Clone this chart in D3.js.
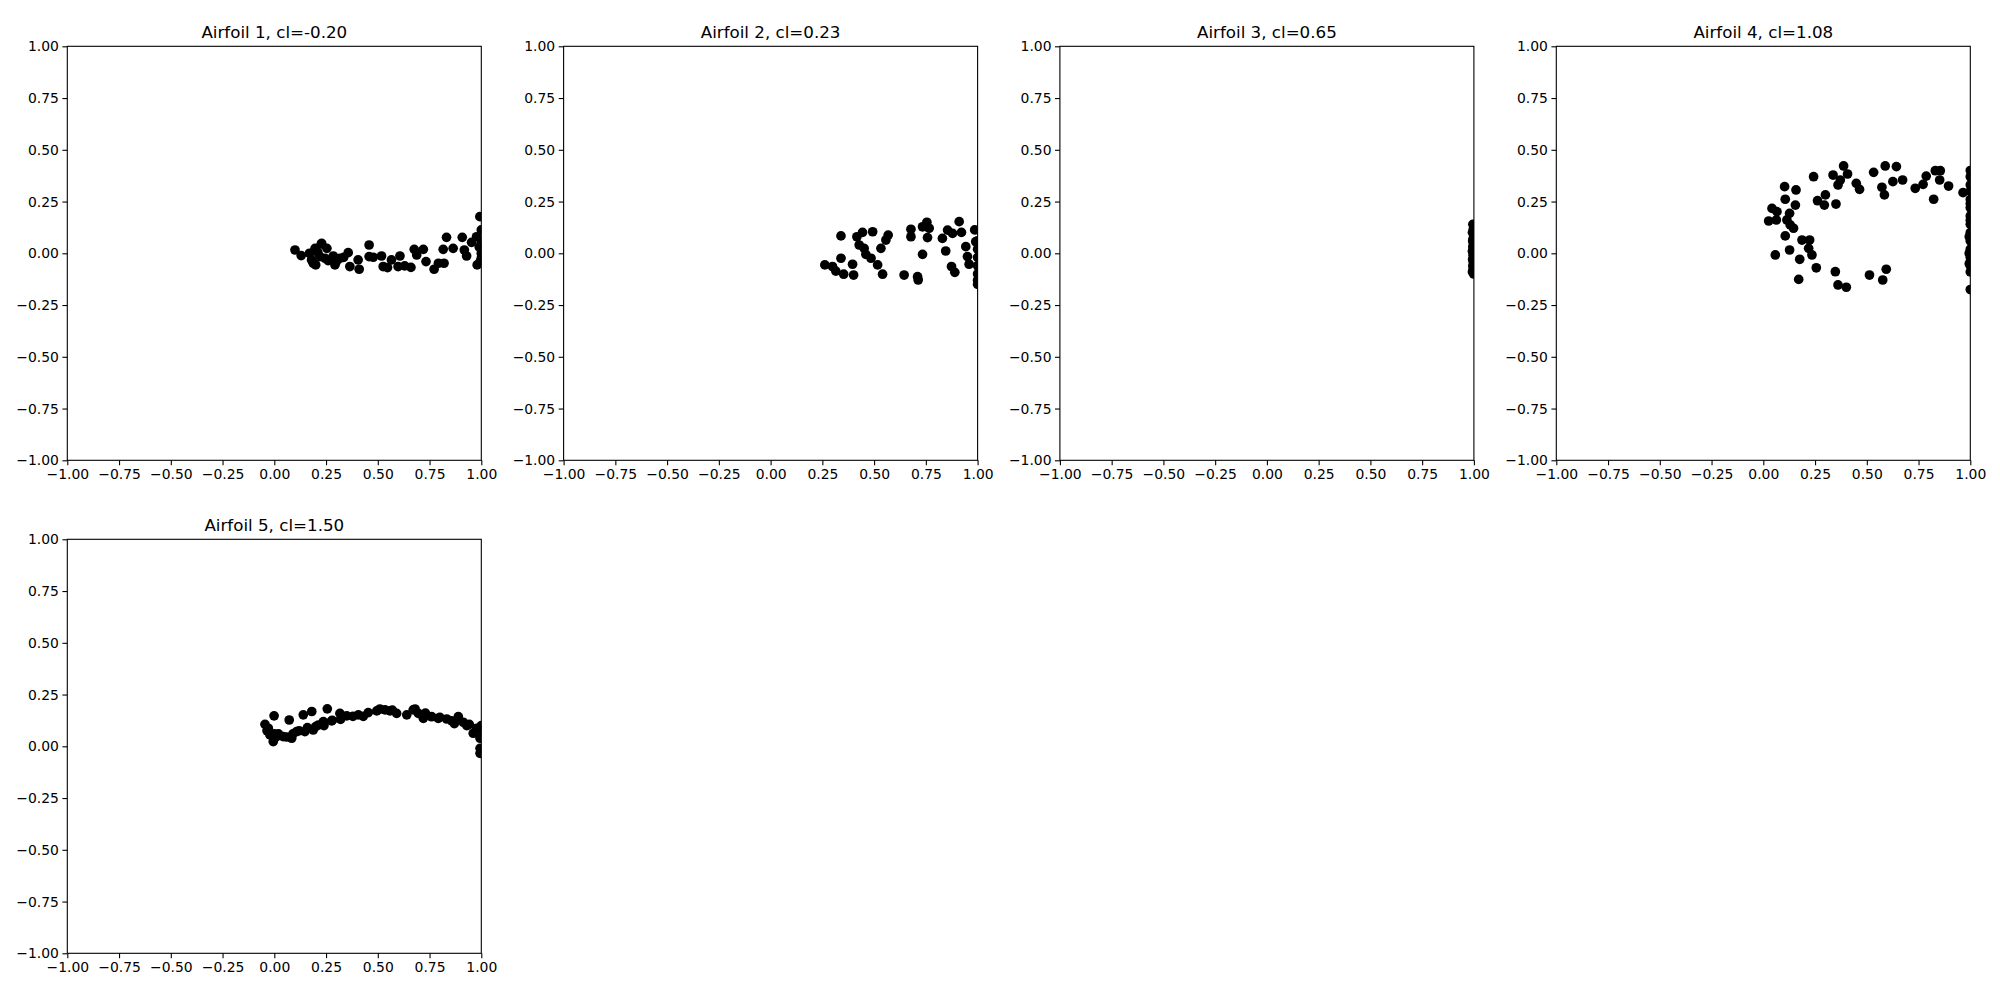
<!DOCTYPE html>
<html><head><meta charset="utf-8">
<script src="https://cdn.jsdelivr.net/npm/d3@7"></script>
<style>body{margin:0;background:#fff}svg{display:block}</style>
</head><body><svg id="c" width="2000" height="1000"></svg>
<script>
const titles = ["Airfoil 1, cl=-0.20","Airfoil 2, cl=0.23","Airfoil 3, cl=0.65","Airfoil 4, cl=1.08","Airfoil 5, cl=1.50"];
const tickValues = [-1,-0.75,-0.5,-0.25,0,0.25,0.5,0.75,1];

const a1x = [0.10,0.13,0.197,0.227,0.254,0.18,0.20,0.22,0.245,0.285,0.293,0.317,0.357,0.365,0.405,0.41,0.458,0.458,0.478,0.518,0.526,0.547,0.566,0.598,0.607,0.63,0.66,0.676,0.688,0.72,0.733,0.772,0.793,0.816,0.82,0.832,0.864,0.908,0.918,0.929,0.953,0.98,0.977,0.993,1.0,1.0,1.0,1.0,0.188,0.229,0.17,0.21,0.26,0.30,0.335,0.99,0.995];
const a1y = [0.016,-0.011,0.024,0.045,0.024,-0.032,-0.056,-0.016,-0.024,-0.013,-0.056,-0.024,0.003,-0.064,-0.032,-0.077,0.04,-0.016,-0.019,-0.013,-0.064,-0.069,-0.032,-0.064,-0.013,-0.061,-0.068,0.019,-0.008,0.019,-0.040,-0.077,-0.048,0.019,-0.048,0.077,0.024,0.077,0.016,-0.013,0.053,-0.056,0.08,0.177,0.113,0.05,0.0,-0.024,-0.048,0.048,0.0,0.005,-0.035,-0.04,-0.02,0.03,-0.04];

const a2x = [0.340,0.262,0.299,0.315,0.340,0.353,0.396,0.401,0.417,0.444,0.428,0.452,0.46,0.485,0.493,0.517,0.541,0.533,0.557,0.568,0.645,0.678,0.678,0.71,0.713,0.734,0.734,0.755,0.766,0.758,0.83,0.846,0.855,0.879,0.874,0.89,0.911,0.922,0.943,0.951,0.959,0.986,0.991,1.0,1.0,1.0,1.0,1.0,1.0,1.0];
const a2y = [0.084,-0.056,-0.064,-0.086,-0.024,-0.101,-0.053,-0.105,0.080,0.101,0.040,0.024,-0.005,-0.024,0.104,-0.056,-0.101,0.024,0.064,0.088,-0.105,0.116,0.080,-0.113,-0.129,-0.005,0.128,0.150,0.121,0.076,0.072,0.011,0.112,0.096,-0.064,-0.092,0.153,0.101,0.032,-0.016,-0.053,0.113,0.056,0.06,0.02,-0.02,-0.06,-0.10,-0.13,-0.15];

const a3x = [0.995,0.998,0.993,1.0,0.996,0.994,0.999,0.997,0.995,1.0,0.993,0.998,0.996,0.999,0.994,0.997,1.0,0.995,0.998,0.996,0.993,0.999,0.997,1.0];
const a3y = [0.14,0.12,0.10,0.09,0.07,0.06,0.05,0.04,0.03,0.02,0.01,0.0,-0.01,-0.02,-0.03,-0.04,-0.05,-0.06,-0.07,-0.08,-0.09,-0.10,0.11,0.13];

const a4x = [0.026,0.042,0.066,0.063,0.103,0.106,0.127,0.114,0.130,0.146,0.158,0.155,0.058,0.106,0.127,0.176,0.171,0.187,0.224,0.219,0.235,0.256,0.243,0.262,0.300,0.295,0.351,0.337,0.388,0.407,0.372,0.361,0.348,0.361,0.401,0.449,0.465,0.513,0.533,0.573,0.585,0.577,0.594,0.589,0.626,0.643,0.673,0.734,0.772,0.787,0.831,0.855,0.852,0.823,0.895,0.965,1.0,1.0,1.0,1.0,1.0,1.0,1.0,1.0,1.0,1.0,1.0,1.0,1.0,1.0,1.0,1.0,1.0,0.995,0.995,0.995];
const a4y = [0.156,0.217,0.201,0.161,0.322,0.261,0.193,0.161,0.137,0.121,0.306,0.233,-0.008,0.084,0.016,-0.029,-0.126,0.064,0.064,0.024,-0.008,-0.07,0.37,0.254,0.282,0.233,0.238,0.378,0.422,0.383,0.354,0.330,-0.089,-0.153,-0.164,0.338,0.309,-0.105,0.391,0.319,0.282,-0.129,-0.077,0.422,0.346,0.419,0.354,0.314,0.333,0.373,0.399,0.399,0.354,0.261,0.325,0.293,0.40,0.37,0.33,0.30,0.26,0.22,0.18,0.14,0.10,0.06,0.02,-0.02,-0.06,-0.09,-0.175,0.24,0.16,0.08,0.0,-0.05];

const a5x = [-0.045,-0.001,-0.029,-0.021,-0.005,0.011,0.043,0.072,0.084,0.108,0.14,0.148,0.181,0.188,0.213,0.237,0.256,0.277,0.317,0.35,0.406,0.454,0.495,0.535,0.559,0.591,0.64,0.671,0.696,0.72,0.76,0.792,0.833,0.857,0.889,0.913,0.942,0.961,0.978,0.994,0.994,0.994,-0.035,0.0,0.02,0.06,0.09,0.12,0.16,0.20,0.24,0.28,0.32,0.38,0.43,0.51,0.57,0.68,0.73,0.80,0.87,0.93,1.0,1.0];
const a5y = [0.106,0.147,0.087,0.055,0.023,0.047,0.047,0.127,0.039,0.071,0.152,0.071,0.168,0.079,0.103,0.119,0.181,0.123,0.159,0.147,0.152,0.163,0.171,0.176,0.171,0.159,0.152,0.176,0.159,0.135,0.143,0.135,0.132,0.123,0.143,0.116,0.106,0.063,0.087,0.039,-0.01,-0.034,0.075,0.06,0.06,0.045,0.06,0.075,0.09,0.095,0.10,0.125,0.13,0.145,0.145,0.18,0.175,0.18,0.16,0.14,0.11,0.10,0.08,0.1];

const panels = [[a1x,a1y],[a2x,a2y],[a3x,a3y],[a4x,a4y],[a5x,a5y]];

const svg = d3.select("#c");
const W = 414, H = 414;
const lefts = [67.3, 563.6, 1059.9, 1556.3];
const tops = [46.3, 539.3];
const fmt = v => d3.format(".2f")(v).replace("-", "\u2212");

panels.forEach((p, i) => {
  const col = i % 4, row = Math.floor(i / 4);
  const g = svg.append("g").attr("transform", `translate(${lefts[col]},${tops[row]})`);
  const x = d3.scaleLinear().domain([-1, 1]).range([0, W]);
  const y = d3.scaleLinear().domain([-1, 1]).range([H, 0]);
  const cid = "clip" + i;
  g.append("clipPath").attr("id", cid).append("rect").attr("width", W).attr("height", H);
  const data = p[0].map((v, k) => [v, p[1][k]]);
  g.append("g").attr("clip-path", `url(#${cid})`).selectAll("circle").data(data).join("circle")
    .attr("cx", d => x(d[0])).attr("cy", d => y(d[1])).attr("r", 4.85).attr("fill", "#000");
  const xa = g.append("g").attr("transform", `translate(0,${H})`)
    .call(d3.axisBottom(x).tickValues(tickValues).tickFormat(fmt).tickSize(4.9).tickPadding(3.5));
  const ya = g.append("g")
    .call(d3.axisLeft(y).tickValues(tickValues).tickFormat(fmt).tickSize(4.9).tickPadding(3.5));
  [xa, ya].forEach(a => {
    a.select(".domain").remove();
    a.selectAll("line").attr("stroke", "#000").attr("stroke-width", 1.1);
    a.selectAll("text").attr("font-family", "DejaVu Sans").attr("font-size", 13.9).attr("fill", "#000");
  });
  g.append("rect").attr("width", W).attr("height", H).attr("fill", "none").attr("stroke", "#000").attr("stroke-width", 1.1);
  g.append("text").attr("x", W / 2).attr("y", -8.5).attr("text-anchor", "middle")
    .attr("font-family", "DejaVu Sans").attr("font-size", 16.7).attr("fill", "#000").text(titles[i]);
});
</script></body></html>
